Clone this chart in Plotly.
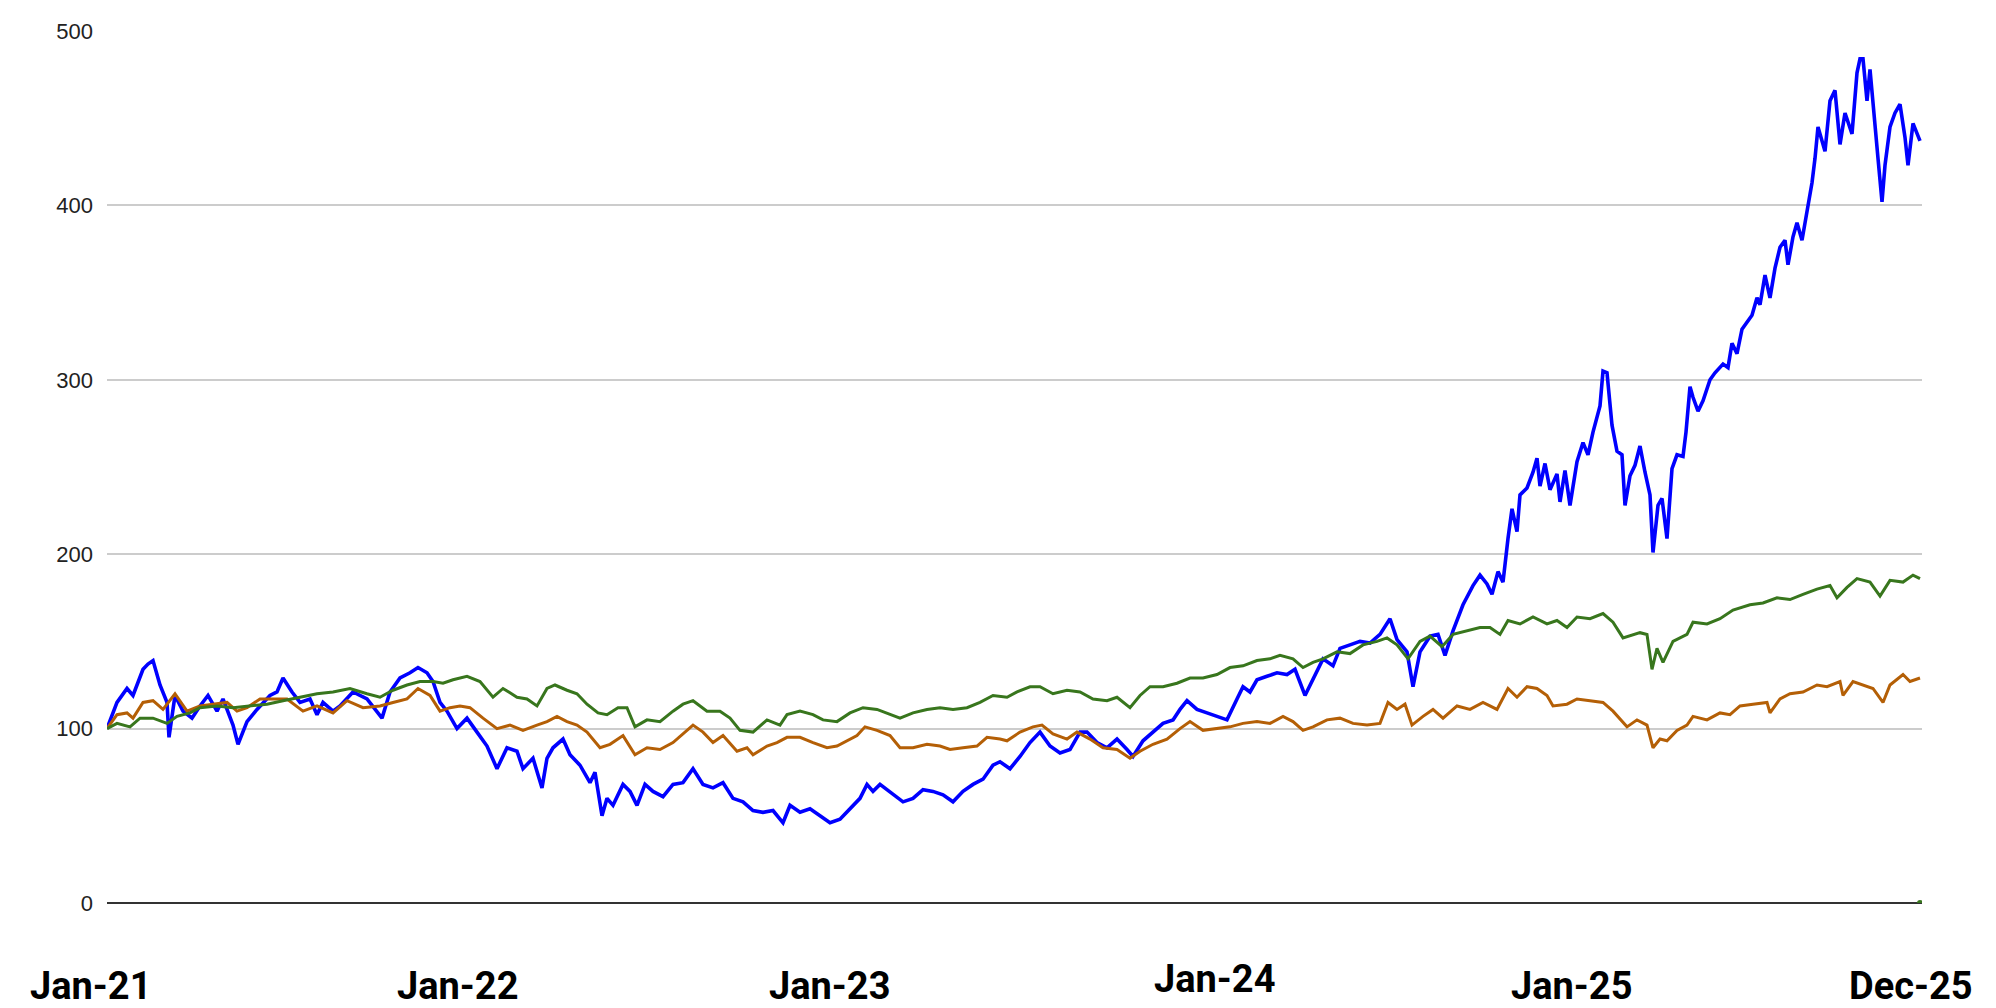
import pandas as pd
import plotly.graph_objects as go

# values, indexed to 100 on 1 Jan 2021
start = pd.Timestamp("2021-01-01")

blue_days = [0, 10, 20, 26, 36, 41, 46, 53, 60, 62, 68, 76, 85, 93, 101, 110, 116, 126, 131, 140,
             150, 163, 170, 176, 185, 193, 203, 210, 216, 226, 233, 246, 260, 275, 283, 293, 303, 311, 320, 326,
             333, 340, 350, 360, 370, 380, 390, 400, 410, 416, 426, 435, 440, 446, 456, 463, 473, 483, 488, 495,
             500, 506, 516, 523, 530, 538, 546, 556, 566, 576, 586, 596, 606, 616, 626, 636, 646, 656, 666, 676,
             683, 693, 703, 713, 723, 733, 743, 753, 760, 766, 773, 786, 796, 806, 816, 826, 836, 846, 856, 866,
             876, 886, 893, 903, 913, 923, 933, 943, 953, 963, 973, 980, 990, 1000, 1010, 1020, 1026, 1036, 1046, 1056,
             1066, 1073, 1080, 1090, 1100, 1110, 1120, 1130, 1136, 1143, 1150, 1160, 1170, 1180, 1188, 1198, 1206, 1216, 1226, 1233,
             1243, 1253, 1263, 1273, 1283, 1290, 1300, 1306, 1313, 1323, 1331, 1338, 1346, 1356, 1366, 1373, 1380, 1385, 1391, 1396,
             1401, 1405, 1410, 1413, 1420, 1426, 1430, 1433, 1438, 1443, 1450, 1453, 1458, 1463, 1470, 1476, 1481, 1486, 1493, 1496,
             1500, 1505, 1510, 1515, 1518, 1523, 1528, 1533, 1538, 1543, 1546, 1551, 1555, 1560, 1565, 1570, 1576, 1579, 1583, 1586,
             1591, 1596, 1603, 1608, 1616, 1621, 1625, 1630, 1635, 1640, 1645, 1650, 1653, 1658, 1663, 1668, 1673, 1678, 1681, 1686,
             1690, 1695, 1700, 1705, 1708, 1711, 1718, 1723, 1728, 1733, 1738, 1745, 1750, 1753, 1756, 1760, 1763, 1768, 1771, 1775,
             1778, 1783, 1788, 1793, 1798, 1801, 1806, 1813]
blue_vals = [100, 115, 123, 119, 134, 137, 139, 125, 115, 95, 119, 110, 106, 113, 119, 110, 117, 102, 91, 104,
             111, 119, 121, 129, 121, 115, 117, 108, 115, 110, 113, 121, 117, 106, 121, 129, 132, 135, 132, 127,
             115, 110, 100, 106, 98, 90, 77, 89, 87, 77, 83, 66, 83, 89, 94, 85, 79, 69, 75, 50,
             60, 56, 68, 64, 56, 68, 64, 61, 68, 69, 77, 68, 66, 69, 60, 58, 53, 52, 53, 46,
             56, 52, 54, 50, 46, 48, 54, 60, 68, 64, 68, 62, 58, 60, 65, 64, 62, 58, 64, 68,
             71, 79, 81, 77, 84, 92, 98, 90, 86, 88, 98, 98, 92, 89, 94, 88, 84, 93, 98, 103,
             105, 111, 116, 111, 109, 107, 105, 117, 124, 121, 128, 130, 132, 131, 134, 119, 128, 140, 136, 146,
             148, 150, 149, 154, 163, 151, 144, 124, 144, 153, 154, 142, 156, 171, 182, 188, 183, 177, 190, 184,
             209, 226, 213, 234, 238, 247, 255, 239, 252, 237, 246, 230, 248, 228, 253, 264, 257, 270, 285, 305,
             304, 274, 259, 257, 228, 245, 251, 262, 247, 234, 201, 228, 232, 209, 249, 257, 256, 270, 296, 290,
             282, 288, 300, 304, 309, 307, 321, 315, 329, 333, 337, 347, 343, 360, 347, 364, 376, 380, 366, 382,
             390, 380, 396, 413, 427, 445, 431, 460, 466, 435, 453, 441, 476, 484, 484, 460, 478, 443, 427, 402,
             423, 445, 453, 458, 439, 423, 447, 437]

orange_days = [0, 10, 20, 26, 36, 46, 56, 68, 80, 93, 106, 120, 130, 140, 153, 166, 180, 196, 210, 226,
               240, 256, 273, 286, 300, 311, 323, 333, 343, 353, 363, 376, 390, 403, 416, 430, 440, 450, 460, 470,
               480, 493, 503, 516, 528, 540, 553, 566, 576, 586, 596, 606, 616, 630, 640, 646, 660, 670, 680, 693,
               706, 720, 730, 740, 750, 758, 770, 783, 793, 806, 820, 833, 843, 856, 870, 880, 893, 900, 913, 926,
               935, 946, 960, 970, 983, 996, 1010, 1023, 1033, 1046, 1060, 1073, 1083, 1096, 1110, 1123, 1136, 1150, 1163, 1176,
               1186, 1196, 1206, 1220, 1233, 1246, 1260, 1273, 1281, 1290, 1298, 1305, 1316, 1326, 1336, 1350, 1363, 1376, 1390, 1401,
               1410, 1420, 1430, 1440, 1446, 1460, 1470, 1483, 1496, 1506, 1520, 1530, 1540, 1546, 1553, 1560, 1570, 1580, 1586, 1600,
               1613, 1623, 1633, 1646, 1660, 1663, 1673, 1683, 1696, 1710, 1720, 1733, 1736, 1746, 1760, 1766, 1776, 1783, 1796, 1803,
               1813]
orange_vals = [100, 108, 109, 106, 115, 116, 111, 120, 110, 113, 114, 115, 110, 112, 117, 117, 117, 110, 113, 109,
               116, 112, 113, 115, 117, 123, 119, 110, 112, 113, 112, 106, 100, 102, 99, 102, 104, 107, 104, 102,
               98, 89, 91, 96, 85, 89, 88, 92, 97, 102, 98, 92, 96, 87, 89, 85, 90, 92, 95, 95,
               92, 89, 90, 93, 96, 101, 99, 96, 89, 89, 91, 90, 88, 89, 90, 95, 94, 93, 98, 101,
               102, 97, 94, 98, 94, 89, 88, 83, 87, 91, 94, 100, 104, 99, 100, 101, 103, 104, 103, 107,
               104, 99, 101, 105, 106, 103, 102, 103, 115, 111, 114, 102, 107, 111, 106, 113, 111, 115, 111, 123,
               118, 124, 123, 119, 113, 114, 117, 116, 115, 110, 101, 105, 102, 89, 94, 93, 99, 102, 107, 105,
               109, 108, 113, 114, 115, 109, 117, 120, 121, 125, 124, 127, 119, 127, 124, 123, 115, 125, 131, 127,
               129]

green_days = [0, 10, 23, 33, 46, 60, 70, 83, 93, 110, 126, 143, 160, 176, 193, 210, 226, 243, 260, 273,
              286, 300, 313, 326, 336, 346, 360, 373, 386, 396, 410, 420, 430, 440, 448, 460, 470, 480, 491, 500,
              511, 520, 528, 540, 553, 566, 576, 586, 600, 613, 623, 633, 646, 660, 673, 680, 693, 706, 716, 730,
              743, 756, 770, 783, 793, 806, 820, 833, 846, 860, 873, 886, 900, 910, 923, 933, 946, 960, 973, 986,
              1000, 1010, 1023, 1033, 1043, 1056, 1070, 1083, 1096, 1110, 1123, 1136, 1150, 1163, 1173, 1186, 1196, 1206, 1216, 1230,
              1243, 1256, 1270, 1280, 1290, 1301, 1313, 1323, 1335, 1346, 1360, 1373, 1383, 1393, 1401, 1413, 1426, 1440, 1450, 1460,
              1470, 1483, 1496, 1506, 1516, 1526, 1533, 1540, 1545, 1550, 1556, 1566, 1580, 1586, 1600, 1613, 1626, 1643, 1656, 1670,
              1683, 1696, 1710, 1723, 1730, 1740, 1750, 1763, 1773, 1783, 1796, 1806, 1813]
green_vals = [100, 103, 101, 106, 106, 103, 107, 109, 112, 113, 112, 113, 114, 116, 118, 120, 121, 123, 120, 118,
              122, 125, 127, 127, 126, 128, 130, 127, 118, 123, 118, 117, 113, 123, 125, 122, 120, 114, 109, 108,
              112, 112, 101, 105, 104, 110, 114, 116, 110, 110, 106, 99, 98, 105, 102, 108, 110, 108, 105, 104,
              109, 112, 111, 108, 106, 109, 111, 112, 111, 112, 115, 119, 118, 121, 124, 124, 120, 122, 121, 117,
              116, 118, 112, 119, 124, 124, 126, 129, 129, 131, 135, 136, 139, 140, 142, 140, 135, 138, 140, 144,
              143, 148, 150, 152, 148, 140, 150, 153, 147, 154, 156, 158, 158, 154, 162, 160, 164, 160, 162, 158,
              164, 163, 166, 161, 152, 154, 155, 154, 134, 146, 138, 150, 154, 161, 160, 163, 168, 171, 172, 175,
              174, 177, 180, 182, 175, 181, 186, 184, 176, 185, 184, 188, 186]

# stray green point sitting on the zero line at the last date
dot_days = [1813]
dot_vals = [0]

y_ticks = [0, 100, 200, 300, 400, 500]
date_labels = ["Jan-21", "Jan-22", "Jan-23", "Jan-24", "Jan-25", "Dec-25"]


def to_dates(days):
    return start + pd.to_timedelta(days, unit="D")


fig = go.Figure()

fig.add_trace(go.Scatter(
    x=to_dates(blue_days), y=blue_vals, mode="lines",
    line={"color": "#0000ff", "width": 3.6}, showlegend=False
))
fig.add_trace(go.Scatter(
    x=to_dates(orange_days), y=orange_vals, mode="lines",
    line={"color": "#b45f06", "width": 3}, showlegend=False
))
fig.add_trace(go.Scatter(
    x=to_dates(green_days), y=green_vals, mode="lines",
    line={"color": "#38761d", "width": 3}, showlegend=False
))
fig.add_trace(go.Scatter(
    x=to_dates(dot_days), y=dot_vals, mode="markers",
    marker={"color": "#38761d", "size": 6}, showlegend=False
))

# date labels sit under the plot as free text
label_x = [-0.009, 0.193, 0.398, 0.610, 0.807, 0.994]
label_y = [-0.095, -0.095, -0.095, -0.087, -0.095, -0.095]
for text, lx, ly in zip(date_labels, label_x, label_y):
    fig.add_annotation(
        text=text, x=lx, y=ly, xref="paper", yref="paper",
        xanchor="center", yanchor="middle", showarrow=False,
        font={"family": "Roboto", "size": 38, "color": "#000000", "weight": "bold"}
    )

# the page body adds an 8px offset, so margins are trimmed to match
fig.update_layout(
    width=1996,
    height=1008,
    margin={"l": 99, "r": 82, "t": 23, "b": 113},
    plot_bgcolor="white",
    paper_bgcolor="white",
    font={"family": "Liberation Sans, Arial, sans-serif"},
)
fig.update_xaxes(
    range=[start, start + pd.Timedelta(days=1815)],
    showgrid=False, showticklabels=False, zeroline=False, showline=False, ticks=""
)
fig.update_yaxes(
    range=[0, 500],
    tickvals=y_ticks,
    tickfont={"size": 22, "color": "#222222"},
    gridcolor="#cccccc", gridwidth=2,
    zeroline=True, zerolinecolor="#333333", zerolinewidth=2,
    showline=False, ticks="", ticklabelstandoff=13
)

fig.write_html("out.html")
